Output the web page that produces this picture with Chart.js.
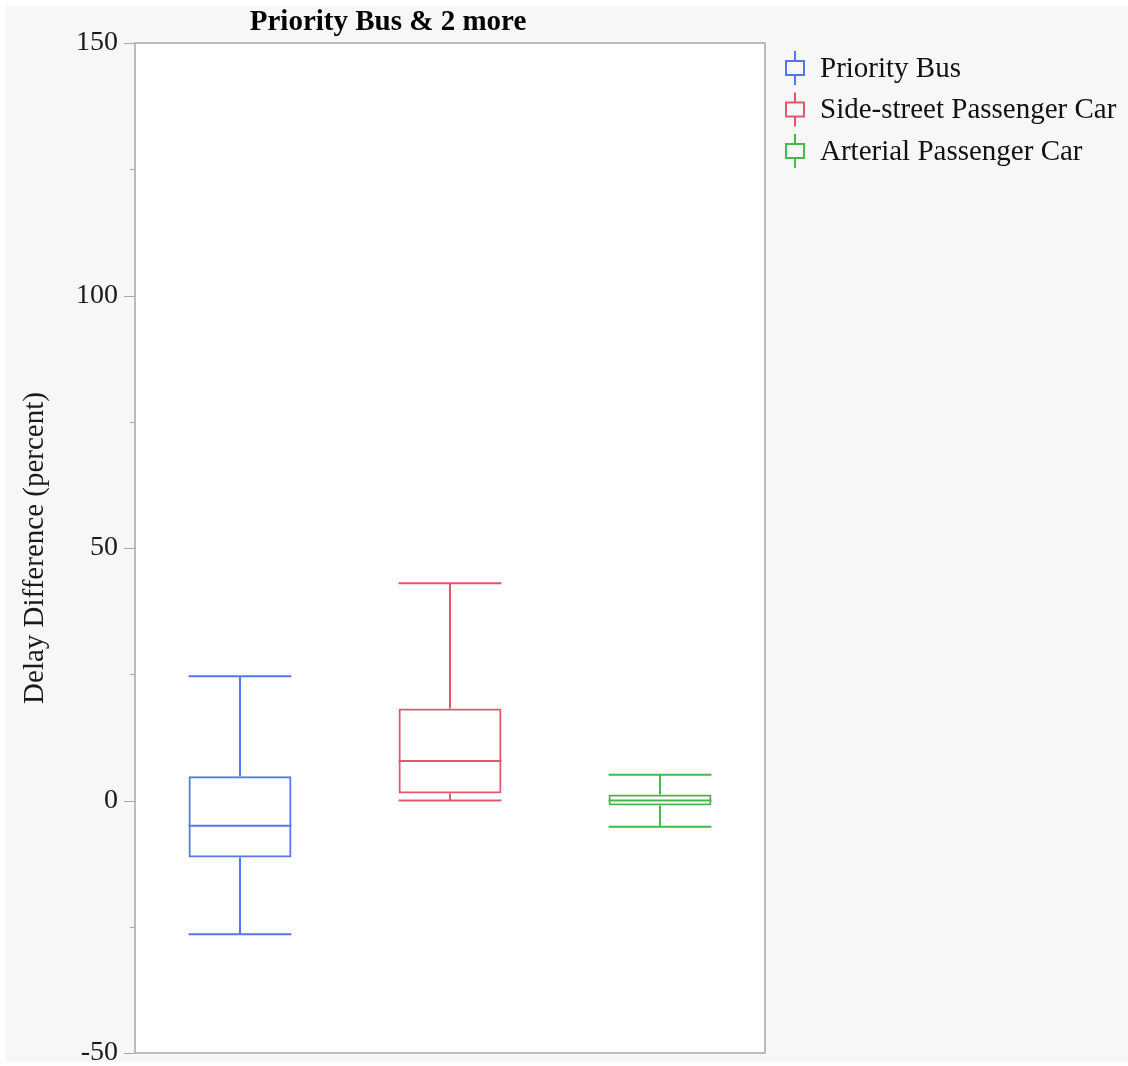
<!DOCTYPE html>
<html>
<head>
<meta charset="utf-8">
<script src="https://cdn.jsdelivr.net/npm/chart.js@4.4.1/dist/chart.umd.min.js"></script>
<style>
  html, body { margin: 0; padding: 0; background: #ffffff; }
  #wrap { width: 1128px; height: 1066px; }
</style>
</head>
<body>
<div id="wrap"><canvas id="box" width="1128" height="1066"></canvas></div>
<script>
const categories = ["Priority Bus", "Side-street Passenger Car", "Arterial Passenger Car"];
const whiskerLow = [-26.5, 0.0, -5.2];
const q1 = [-11.3, 1.4, -1.0];
const median = [-5.0, 7.8, 0.0];
const q3 = [4.8, 18.2, 1.2];
const whiskerHigh = [24.6, 43.0, 5.1];
const colors = ["#5479e6", "#de5a6b", "#46b84e"];
const yTicks = [-50, 0, 50, 100, 150];
const yMinorTicks = [-25, 25, 75, 125];

const serif = "'Liberation Serif', 'Times New Roman', serif";

// page background, white plot panel and its frame
const framePlugin = {
  id: "frame",
  beforeDraw(chart) {
    const { ctx, chartArea: a } = chart;
    ctx.save();
    ctx.fillStyle = "#ffffff";
    ctx.fillRect(0, 0, chart.width, chart.height);
    ctx.fillStyle = "#f7f7f7";
    ctx.fillRect(6, 6, chart.width - 6, chart.height - 10);
    ctx.fillStyle = "#ffffff";
    ctx.fillRect(a.left, a.top, a.right - a.left, a.bottom - a.top);
    ctx.restore();
  },
  afterDraw(chart) {
    const { ctx, chartArea: a } = chart;
    const y = chart.scales.y;
    ctx.save();
    ctx.strokeStyle = "#a8a8a8";
    ctx.lineWidth = 1.5;
    ctx.strokeRect(a.left, a.top, a.right - a.left, a.bottom - a.top);
    ctx.beginPath();
    yTicks.forEach(v => {
      const py = Math.round(y.getPixelForValue(v)) + 0.5;
      ctx.moveTo(a.left - 11, py);
      ctx.lineTo(a.left, py);
    });
    yMinorTicks.forEach(v => {
      const py = Math.round(y.getPixelForValue(v)) + 0.5;
      ctx.moveTo(a.left - 5, py);
      ctx.lineTo(a.left, py);
    });
    ctx.lineWidth = 1;
    ctx.stroke();

    // title
    ctx.fillStyle = "#000000";
    ctx.font = "bold 29px " + serif;
    ctx.textAlign = "center";
    ctx.textBaseline = "middle";
    ctx.fillText("Priority Bus & 2 more", (a.left + a.right) / 2 - 62, a.top - 20);

    // legend with small box icons
    ctx.font = "29px " + serif;
    ctx.textAlign = "left";
    categories.forEach((name, i) => {
      const cx = a.right + 30;
      const cy = a.top + 25 + i * 41.5;
      ctx.strokeStyle = colors[i];
      ctx.lineWidth = 2;
      ctx.beginPath();
      ctx.moveTo(cx, cy - 17);
      ctx.lineTo(cx, cy - 7);
      ctx.moveTo(cx, cy + 7);
      ctx.lineTo(cx, cy + 17);
      ctx.stroke();
      ctx.strokeRect(cx - 9, cy - 7, 18, 14);
      ctx.fillStyle = "#111111";
      ctx.fillText(name, a.right + 55, cy + 1);
    });
    ctx.restore();
  }
};

// medians and whiskers, placed from the box bars
const whiskerPlugin = {
  id: "whiskers",
  afterDatasetsDraw(chart) {
    const { ctx } = chart;
    const y = chart.scales.y;
    const bars = chart.getDatasetMeta(0).data;
    ctx.save();
    ctx.lineWidth = 2;
    bars.forEach((bar, i) => {
      const half = bar.width / 2;
      const x = bar.x;
      const pm = y.getPixelForValue(median[i]);
      const pq1 = y.getPixelForValue(q1[i]);
      const pq3 = y.getPixelForValue(q3[i]);
      const plo = y.getPixelForValue(whiskerLow[i]);
      const phi = y.getPixelForValue(whiskerHigh[i]);
      ctx.strokeStyle = colors[i];
      ctx.beginPath();
      ctx.moveTo(x - half, pm); ctx.lineTo(x + half, pm);
      ctx.moveTo(x, pq3); ctx.lineTo(x, phi);
      ctx.moveTo(x - half, phi); ctx.lineTo(x + half, phi);
      ctx.moveTo(x, pq1); ctx.lineTo(x, plo);
      ctx.moveTo(x - half, plo); ctx.lineTo(x + half, plo);
      ctx.stroke();
    });
    ctx.restore();
  }
};

new Chart(document.getElementById("box"), {
  type: "bar",
  data: {
    labels: categories,
    datasets: [{
      label: "Delay Difference",
      data: categories.map((c, i) => [q1[i], q3[i]]),
      backgroundColor: "rgba(255,255,255,0)",
      borderColor: colors,
      borderWidth: 2,
      borderSkipped: false,
      categoryPercentage: 1,
      barPercentage: 0.49
    }]
  },
  options: {
    responsive: false,
    animation: false,
    layout: { padding: { top: 43, right: 363, bottom: 13, left: 0 } },
    plugins: {
      legend: { display: false },
      tooltip: { enabled: false },
      title: { display: false }
    },
    scales: {
      x: { display: false },
      y: {
        min: -50,
        max: 150,
        afterFit(scale) {
          scale.width = 135;
          scale.paddingTop = 0;
          scale.paddingBottom = 0;
        },
        grid: { display: false },
        border: { display: false },
        ticks: {
          stepSize: 50,
          padding: 9,
          color: "#1a1a1a",
          font: { family: serif, size: 28 }
        },
        title: {
          display: true,
          text: "Delay Difference (percent)",
          color: "#1a1a1a",
          font: { family: serif, size: 29 },
          padding: { top: 18, bottom: 0 }
        }
      }
    }
  },
  plugins: [framePlugin, whiskerPlugin]
});
</script>
</body>
</html>
